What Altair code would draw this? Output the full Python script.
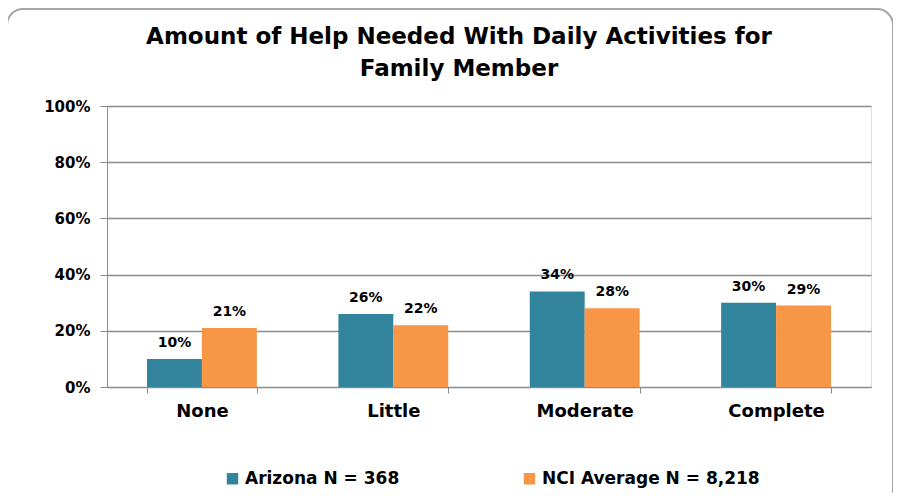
import altair as alt
import pandas as pd

categories = ["None", "Little", "Moderate", "Complete"]
series = ["Arizona N = 368", "NCI Average N = 8,218"]
arizona = [10, 26, 34, 30]
nci = [21, 22, 28, 29]
colors = ["#31849B", "#F79646"]
title_lines = ["Amount of Help Needed With Daily Activities for", "Family Member"]

rows = []
for i, c in enumerate(categories):
    rows.append({"cat": c, "series": series[0], "value": arizona[i] / 100, "label": f"{arizona[i]}%"})
    rows.append({"cat": c, "series": series[1], "value": nci[i] / 100, "label": f"{nci[i]}%"})
df = pd.DataFrame(rows)

FONT = "DejaVu Sans"

x_enc = alt.X(
    "cat:N", sort=categories, title=None,
    scale=alt.Scale(paddingInner=0.426, paddingOuter=0.209),
    axis=alt.Axis(labelAngle=0, labelFont=FONT, labelFontSize=18, labelFontWeight="bold",
                  labelColor="#000000", labelPadding=9, tickBand="extent", tickSize=6,
                  tickColor="#8c8c8c", domainColor="#8c8c8c", grid=False),
)
y_enc = alt.Y(
    "value:Q", title=None,
    scale=alt.Scale(domain=[0, 1]),
    axis=alt.Axis(format=".0%", values=[0, 0.2, 0.4, 0.6, 0.8, 1.0], labelFont=FONT,
                  labelFontSize=15, labelFontWeight="bold", labelColor="#000000",
                  labelPadding=10, tickSize=7, tickColor="#8c8c8c", domainColor="#8c8c8c",
                  gridColor="#8c8c8c", gridWidth=1.5),
)

base = alt.Chart(df).encode(
    x=x_enc,
    xOffset=alt.XOffset("series:N", sort=series),
    y=y_enc,
)

bars = base.mark_bar().encode(
    color=alt.Color("series:N", sort=series, scale=alt.Scale(domain=series, range=colors),
                    legend=alt.Legend(title=None, orient="none", direction="horizontal",
                                      legendX=117, legendY=364, symbolType="square",
                                      symbolSize=130, symbolStrokeWidth=0,
                                      labelFont=FONT, labelFontSize=17, labelFontWeight="bold",
                                      labelColor="#000000", columnPadding=121, labelLimit=400)),
)

labels = base.mark_text(dy=-16, font=FONT, fontSize=14, fontWeight="bold", color="#000000").encode(
    text="label:N"
)

one = pd.DataFrame({"a": [0]})

border = alt.Chart(one).mark_rect(
    fill="#ffffff", fillOpacity=0, stroke="#a6a6a6", strokeWidth=2, cornerRadius=16
).encode(
    x=alt.value(-100), x2=alt.value(786), y=alt.value(-97), y2=alt.value(440)
)

title1 = alt.Chart(one).mark_text(
    font=FONT, fontSize=23, fontWeight="bold", color="#000000", baseline="middle", align="center"
).encode(x=alt.value(352), y=alt.value(-69), text=alt.value(title_lines[0]))

title2 = alt.Chart(one).mark_text(
    font=FONT, fontSize=23, fontWeight="bold", color="#000000", baseline="middle", align="center"
).encode(x=alt.value(352), y=alt.value(-37), text=alt.value(title_lines[1]))

chart = alt.layer(border, bars, labels, title1, title2).properties(
    width=764, height=281,
    autosize="none",
    padding={"left": 99, "top": 98, "right": 22, "bottom": 106},
).configure_view(fill="#EBEBEB", strokeWidth=0).configure(background="#ffffff")

chart.save("out.html", embed_options={"renderer": "svg", "actions": False})
